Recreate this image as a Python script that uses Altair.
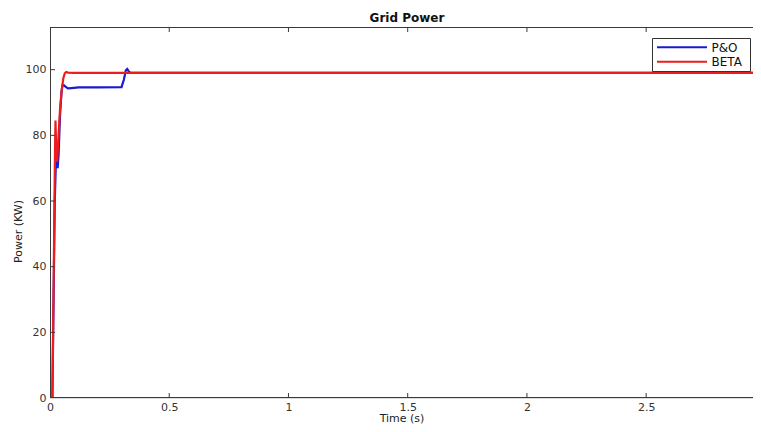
import altair as alt
import pandas as pd

# ---- data ----
po_t = [0.0, 0.010, 0.015, 0.020, 0.026, 0.032, 0.036, 0.042, 0.048, 0.052, 0.058,
        0.065, 0.075, 0.090, 0.120, 0.200, 0.300, 0.310, 0.318, 0.324, 0.330, 0.338,
        0.360, 3.0]
po_p = [0.0, 0.0, 30.0, 60.0, 75.0, 70.0, 74.0, 86.0, 93.0, 95.2, 95.3,
        94.8, 94.3, 94.4, 94.6, 94.6, 94.7, 97.0, 99.8, 100.2, 99.5, 99.0,
        99.0, 99.0]

beta_t = [0.0, 0.010, 0.016, 0.021, 0.023, 0.026, 0.030, 0.036, 0.042, 0.049,
          0.056, 0.062, 0.068, 0.075, 0.100, 3.0]
beta_p = [0.0, 0.0, 40.0, 75.0, 84.5, 76.0, 72.0, 80.0, 88.0, 93.7,
          97.4, 98.9, 99.3, 99.1, 99.0, 99.0]

series_names = ["P&O", "BETA"]
series_colors = ["#1a1ad0", "#ee1c1c"]

x_ticks = [0, 0.5, 1, 1.5, 2, 2.5, 3]
y_ticks = [0, 20, 40, 60, 80, 100]
chart_title = "Grid Power"

W, H = 703, 371
X_MAX = 2.948  # visible part of the 0..3 axis (the reference is cut at the right edge)
FONT = "DejaVu Sans"
FRAME = "#3a3a3a"

df = pd.concat([
    pd.DataFrame({"t": po_t, "p": po_p, "series": "P&O"}),
    pd.DataFrame({"t": beta_t, "p": beta_p, "series": "BETA"}),
], ignore_index=True)

xscale = alt.Scale(domain=[0, X_MAX], nice=False, zero=False)
yscale = alt.Scale(domain=[0, 113], nice=False)

lines = alt.Chart(df).mark_line(strokeWidth=2.2, interpolate="linear", clip=True).encode(
    x=alt.X("t:Q", scale=xscale, title="Time (s)",
            axis=alt.Axis(values=x_ticks[:-1], format="~g", ticks=False, domain=False, grid=False,
                          labelPadding=3, labelFlush=False, labelOverlap=False,
                          labelFont=FONT, labelFontSize=11, labelColor="#333333",
                          titleFont=FONT, titleFontSize=11, titleFontWeight="normal",
                          titleColor="#222222", titleY=20.8, titleBaseline="middle")),
    y=alt.Y("p:Q", scale=yscale, title="Power (KW)",
            axis=alt.Axis(values=y_ticks, ticks=False, domain=False, grid=False,
                          labelPadding=4, labelFlush=False, labelOverlap=False,
                          labelFont=FONT, labelFontSize=11, labelColor="#333333",
                          titleFont=FONT, titleFontSize=11, titleFontWeight="normal",
                          titleColor="#222222", titleX=-32, titleY=204,
                          titleAlign="center", titleBaseline="middle")),
    color=alt.Color("series:N", scale=alt.Scale(domain=series_names, range=series_colors),
                    legend=None),
    detail="series:N",
)

xt = pd.DataFrame({"v": x_ticks[1:-1]})
yt = pd.DataFrame({"v": y_ticks[1:]})

xtick_bottom = alt.Chart(xt).mark_rule(color=FRAME, strokeWidth=1).encode(
    x=alt.X("v:Q", scale=xscale), y=alt.value(H), y2=alt.value(H - 5))
xtick_top = alt.Chart(xt).mark_rule(color=FRAME, strokeWidth=1).encode(
    x=alt.X("v:Q", scale=xscale), y=alt.value(0), y2=alt.value(5))
ytick_left = alt.Chart(yt).mark_rule(color=FRAME, strokeWidth=1).encode(
    y=alt.Y("v:Q", scale=yscale), x=alt.value(0), x2=alt.value(5))

# axes box (left, top, bottom; the right side is cut off in the reference)
one = pd.DataFrame({"a": [0]})
frame_left = alt.Chart(one).mark_rule(color=FRAME, strokeWidth=1).encode(
    x=alt.value(0.5), y=alt.value(0), y2=alt.value(H))
frame_top = alt.Chart(one).mark_rule(color=FRAME, strokeWidth=1).encode(
    x=alt.value(0), x2=alt.value(W), y=alt.value(0.5))
frame_bottom = alt.Chart(one).mark_rule(color=FRAME, strokeWidth=1).encode(
    x=alt.value(0), x2=alt.value(W), y=alt.value(H - 0.5))

title_mark = alt.Chart(pd.DataFrame({"title": [chart_title]})).mark_text(
    font=FONT, fontSize=12, fontWeight="bold", color="#111111",
    align="center", baseline="middle").encode(
    x=alt.value(357), y=alt.value(-9.5), text="title:N")

# legend box
legend_box = alt.Chart(one).mark_rect(fill="white", stroke="#333333", strokeWidth=1).encode(
    x=alt.value(602.5), x2=alt.value(700.5), y=alt.value(11.5), y2=alt.value(44.5))

legend_layers = [legend_box]
for i, (name, col) in enumerate(zip(series_names, series_colors)):
    yy = 20.3 + i * 14.4
    d = pd.DataFrame({"name": [name]})
    legend_layers.append(
        alt.Chart(d).mark_rule(color=col, strokeWidth=2).encode(
            x=alt.value(607), x2=alt.value(657), y=alt.value(yy)))
    legend_layers.append(
        alt.Chart(d).mark_text(align="left", baseline="middle", font=FONT, fontSize=12,
                               color="#111111").encode(
            x=alt.value(661.5), y=alt.value(yy + 0.5), text="name:N"))

chart = alt.layer(lines, frame_left, frame_top, frame_bottom, xtick_bottom, xtick_top,
                  ytick_left, title_mark, *legend_layers).properties(
    width=W, height=H,
    autosize=alt.AutoSizeParams(type="none"),
    padding={"left": 42, "top": 19, "right": 0, "bottom": 26},
).configure_view(strokeWidth=0).configure(background="white")

chart.save("out.html", embed_options={"renderer": "svg", "actions": False})
